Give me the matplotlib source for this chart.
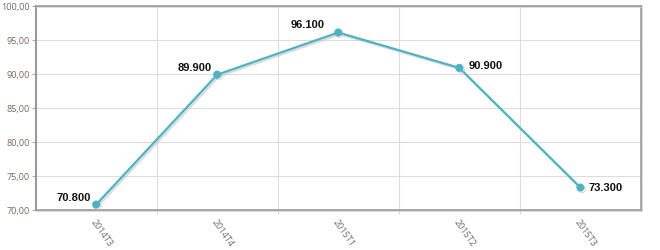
#!/usr/bin/env python3
"""Quarterly index line chart."""

import matplotlib.pyplot as plt
import matplotlib.patheffects as pe
from matplotlib.ticker import FuncFormatter, FixedLocator

quarters = ["2014T3", "2014T4", "2015T1", "2015T2", "2015T3"]
values = [70.8, 89.9, 96.1, 90.9, 73.3]
value_labels = ["70.800", "89.900", "96.100", "90.900", "73.300"]

# label placement relative to the point (offset in points, horizontal alignment)
label_style = [((-4, 1), "right"), ((-4, 1), "right"), ((-10, 2), "right"),
               ((7, 1), "left"), ((6, 0), "left")]


def main():
    fig = plt.figure(figsize=(6.6, 2.5), dpi=100)
    ax = fig.add_axes([0.054, 0.16, 0.917, 0.816])

    x = list(range(len(quarters)))
    ax.plot(x, values, color="#4db3c2", lw=1.6, marker="o", ms=4.8,
            zorder=3, clip_on=False,
            path_effects=[pe.SimpleLineShadow(offset=(1.2, -1.2), shadow_color="#bbbbbb", alpha=0.5),
                          pe.Normal()])

    for xi, v, lab, (off, ha) in zip(x, values, value_labels, label_style):
        ax.annotate(lab, (xi, v), xytext=off, textcoords="offset points",
                    ha=ha, va="bottom" if ha == "right" else "center",
                    fontsize=8, fontweight="bold", family="Liberation Sans",
                    color="#111111", zorder=4)

    ax.set_xlim(-0.5, len(quarters) - 0.5)
    ax.set_ylim(70, 100)
    ax.set_yticks(range(70, 101, 5))
    ax.yaxis.set_major_formatter(FuncFormatter(lambda v, _: f"{v:.2f}".replace(".", ",")))
    ax.set_xticks(x)
    ax.set_xticklabels(quarters, rotation=-55, ha="left", va="top",
                       rotation_mode="anchor", family="Open Sans", fontsize=6.5, color="#6b6b6b")
    ax.xaxis.set_minor_locator(FixedLocator([i + 0.5 for i in range(len(quarters) - 1)]))

    ax.tick_params(axis="x", which="major", length=0, pad=6)
    ax.tick_params(axis="x", which="minor", length=3, color="#cccccc")
    ax.tick_params(axis="y", length=3, pad=1.5, color="#aaaaaa", labelsize=6.5, labelcolor="#75695f")
    for t in ax.get_yticklabels():
        t.set_family("Open Sans")

    ax.grid(axis="y", which="major", color="#dddddd", lw=0.8)
    ax.grid(axis="x", which="minor", color="#dddddd", lw=0.8)
    ax.set_axisbelow(True)

    for side in ["top", "right", "bottom"]:
        ax.spines[side].set_color("#9a9a9a")
        ax.spines[side].set_linewidth(1.2)
        ax.spines[side].set_path_effects([pe.SimpleLineShadow(offset=(1, -1), shadow_color="#cccccc", alpha=0.8),
                                          pe.Normal()])
    ax.spines["left"].set_color("#999999")
    ax.spines["left"].set_linewidth(1.5)

    plt.savefig("out.png", dpi=100, facecolor="white")
    plt.close()


if __name__ == "__main__":
    main()
